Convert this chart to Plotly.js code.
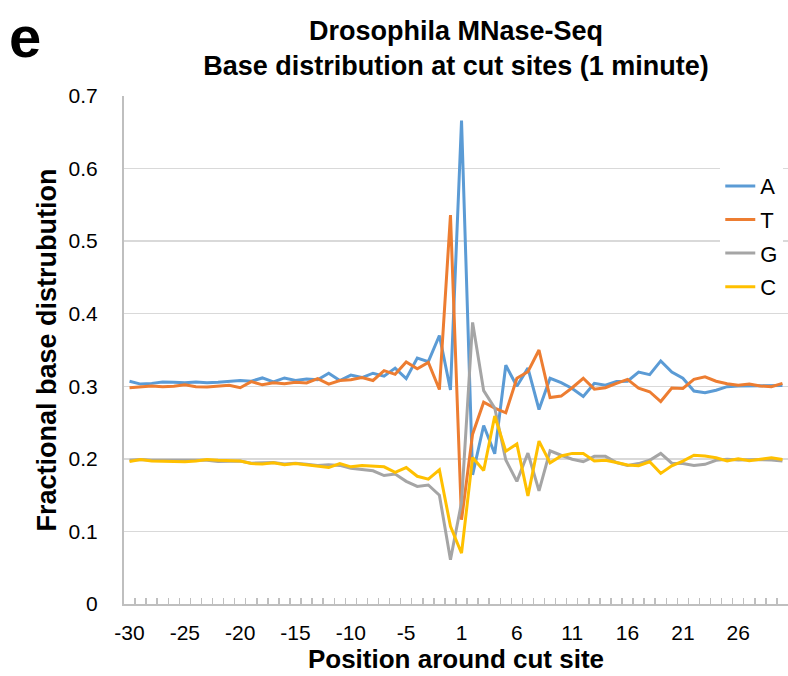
<!DOCTYPE html>
<html>
<head>
<meta charset="utf-8">
<script src="https://cdn.plot.ly/plotly-3.0.1.min.js"></script>
<style>html,body{margin:0;padding:0;background:#fff;}#chart{width:788px;height:676px;}</style>
</head>
<body>
<div id="chart"></div>
<script>
const positions = ['-30','-29','-28','-27','-26','-25','-24','-23','-22','-21','-20','-19','-18','-17','-16','-15','-14','-13','-12','-11','-10','-9','-8','-7','-6','-5','-4','-3','-2','-1',
  '1','2','3','4','5','6','7','8','9','10','11','12','13','14','15','16','17','18','19','20','21','22','23','24','25','26','27','28','29','30'];
const tickLabels = ['-30','-25','-20','-15','-10','-5','1','6','11','16','21','26'];

const baseA = [0.307,0.303,0.304,0.306,0.3055,0.305,0.306,0.305,0.3055,0.3065,0.308,0.307,0.3115,0.306,0.3115,0.308,0.310,0.309,0.318,0.308,0.3155,0.312,0.318,0.314,0.325,0.3105,0.339,0.334,0.370,0.295,
  0.666,0.178,0.246,0.207,0.329,0.300,0.325,0.268,0.311,0.305,0.297,0.286,0.304,0.3015,0.3065,0.307,0.3195,0.316,0.335,0.3195,0.311,0.2935,0.291,0.2945,0.2995,0.3005,0.3005,0.301,0.3005,0.301];
const baseT = [0.298,0.299,0.3005,0.2995,0.300,0.302,0.2995,0.299,0.3005,0.3015,0.298,0.3065,0.302,0.305,0.3035,0.3055,0.3045,0.3105,0.303,0.308,0.309,0.312,0.308,0.3215,0.3165,0.3335,0.324,0.333,0.2955,0.536,
  0.116,0.234,0.278,0.270,0.2635,0.311,0.320,0.350,0.2845,0.2865,0.298,0.311,0.296,0.298,0.304,0.3095,0.2975,0.2925,0.279,0.2975,0.297,0.3095,0.313,0.307,0.3035,0.3015,0.303,0.3005,0.2995,0.304];
const baseG = [0.198,0.199,0.198,0.198,0.198,0.197,0.198,0.198,0.1965,0.1965,0.197,0.194,0.1945,0.195,0.193,0.194,0.1925,0.191,0.192,0.191,0.187,0.1855,0.1835,0.177,0.179,0.169,0.162,0.164,0.150,0.061,
  0.140,0.388,0.294,0.270,0.1985,0.169,0.208,0.156,0.211,0.205,0.1995,0.196,0.2035,0.2035,0.195,0.191,0.1935,0.198,0.2075,0.194,0.1935,0.191,0.1925,0.198,0.1995,0.1985,0.199,0.199,0.1985,0.197];
const baseC = [0.1965,0.199,0.197,0.1965,0.1965,0.196,0.197,0.199,0.198,0.197,0.197,0.1935,0.193,0.1945,0.192,0.1935,0.192,0.190,0.188,0.1935,0.189,0.191,0.1905,0.189,0.1815,0.188,0.176,0.172,0.185,0.107,
  0.070,0.202,0.184,0.259,0.2105,0.2205,0.149,0.2245,0.1945,0.204,0.2075,0.2075,0.197,0.198,0.195,0.1915,0.1905,0.196,0.180,0.1905,0.197,0.205,0.204,0.2015,0.197,0.200,0.1975,0.1995,0.2015,0.199];

const seriesNames = ['A','T','G','C'];
const seriesColors = ['#5B9BD5','#ED7D31','#A5A5A5','#FFC000'];
const seriesValues = [baseA, baseT, baseG, baseC];

const FONT = 'Liberation Sans, Arial, sans-serif';

const traces = seriesNames.map((n, k) => ({
  type: 'scatter', mode: 'lines', name: n, legendgroup: n,
  x: positions, y: seriesValues[k],
  line: {color: seriesColors[k], width: 3}
}));

const layout = {
  width: 788, height: 676,
  margin: {l: 124, r: 0, t: 96, b: 72},
  paper_bgcolor: '#fff', plot_bgcolor: '#fff',
  font: {family: FONT, color: '#000'},
  title: {
    text: 'Drosophila MNase-Seq<br>Base distribution at cut sites (1 minute)',
    font: {family: FONT, size: 27, weight: 'bold', color: '#000'},
    x: 0.5, xref: 'paper', xanchor: 'center',
    y: 0.941, yref: 'container', yanchor: 'top'
  },
  xaxis: {
    type: 'category', categoryorder: 'array', categoryarray: positions,
    range: [-0.5, positions.length - 0.5],
    tickmode: 'array', tickvals: positions,
    ticktext: positions.map(p => tickLabels.includes(p) ? p : ''),
    tickangle: 0,
    tickson: 'boundaries', ticks: 'inside', ticklen: 6, tickwidth: 1.5, tickcolor: '#bfbfbf',
    showline: true, linecolor: '#bfbfbf', linewidth: 2,
    showgrid: false, zeroline: false,
    tickfont: {family: FONT, size: 21, color: '#000'},
    ticklabelstandoff: 9,
    title: {text: 'Position around cut site', font: {family: FONT, size: 26, weight: 'bold', color: '#000'}, standoff: 6}
  },
  yaxis: {
    range: [0, 0.7], dtick: 0.1, tick0: 0,
    showgrid: true, gridcolor: '#d9d9d9', gridwidth: 1.5,
    showline: true, linecolor: '#bfbfbf', linewidth: 2,
    zeroline: false, ticks: '',
    tickfont: {family: FONT, size: 21, color: '#000'},
    ticklabelstandoff: 20,
    title: {text: 'Fractional base distrubution', font: {family: FONT, size: 27, weight: 'bold', color: '#000'}, standoff: 4}
  },
  legend: {
    x: 0.898, xanchor: 'left', y: 0.864, yanchor: 'top',
    bgcolor: '#fff', borderwidth: 0,
    font: {family: FONT, size: 22, color: '#000'},
    traceorder: 'grouped', tracegroupgap: 2
  },
  annotations: [{
    text: 'e', showarrow: false, xref: 'paper', yref: 'paper',
    x: -0.1762, xanchor: 'left', y: 1.118, yanchor: 'middle',
    font: {family: FONT, size: 58, weight: 'bold', color: '#000'}
  }],
  showlegend: true
};

Plotly.newPlot('chart', traces, layout, {displayModeBar: false, staticPlot: true});
</script>
</body>
</html>
